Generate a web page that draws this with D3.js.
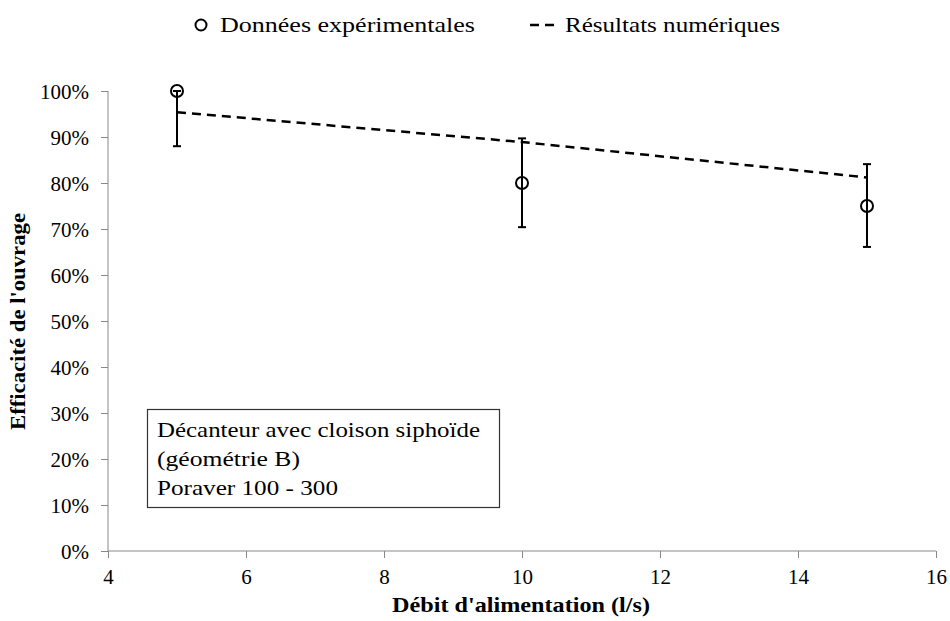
<!DOCTYPE html>
<html><head><meta charset="utf-8">
<script src="https://cdn.jsdelivr.net/npm/d3@7"></script>
<style>body{margin:0;background:#fff;} text{font-family:"Liberation Serif","DejaVu Serif",serif;}</style>
</head><body>
<svg id="c" width="950" height="621"></svg>
<script>
const expX = [5, 10, 15];
const expY = [1.00, 0.80, 0.75];
const errLow = [0.88, 0.704, 0.661];
const errHigh = [1.00, 0.897, 0.841];
const numX = [5, 10, 15];
const numY = [0.954, 0.889, 0.812];
const xTicks = [4, 6, 8, 10, 12, 14, 16];
const yTicks = [0, 0.1, 0.2, 0.3, 0.4, 0.5, 0.6, 0.7, 0.8, 0.9, 1.0];
const noteLines = ["Décanteur avec cloison siphoïde", "(géométrie B)", "Poraver 100 - 300"];

const svg = d3.select("#c");
const x = d3.scaleLinear().domain([4, 16]).range([108, 936]);
const y = d3.scaleLinear().domain([0, 1]).range([551, 91]);

const axisColor = "#898989";
const xa = svg.append("g").attr("transform", "translate(0,551)")
  .call(d3.axisBottom(x).tickValues(xTicks).tickSize(7).tickPadding(8).tickFormat(d3.format("d")));
const ya = svg.append("g").attr("transform", "translate(108,0)")
  .call(d3.axisLeft(y).tickValues(yTicks).tickSize(7).tickPadding(12).tickFormat(d => Math.round(d*100) + "%"));
[xa, ya].forEach(a => {
  a.selectAll("path,line").attr("stroke", axisColor).attr("stroke-width", 1);
  a.selectAll("text").attr("fill", "#000").attr("font-size", 21).attr("font-family", "Liberation Serif");
});
xa.select(".domain").attr("d", "M108,0H936");
ya.select(".domain").attr("d", "M0,91V551");
xa.selectAll("text").attr("dy", "0.85em");
ya.selectAll("text").attr("dy", "0.34em");

// dashed line
svg.append("path")
  .datum(numX.map((d, i) => [d, numY[i]]))
  .attr("fill", "none").attr("stroke", "#000").attr("stroke-width", 2.5)
  .attr("stroke-dasharray", "9,6")
  .attr("d", d3.line().x(d => x(d[0])).y(d => y(d[1])));

// error bars
const eb = svg.append("g").attr("stroke", "#000").attr("stroke-width", 2);
expX.forEach((d, i) => {
  eb.append("line").attr("x1", x(d)).attr("x2", x(d)).attr("y1", y(errLow[i])).attr("y2", y(errHigh[i]));
  eb.append("line").attr("x1", x(d) - 4).attr("x2", x(d) + 4).attr("y1", y(errLow[i])).attr("y2", y(errLow[i]));
  eb.append("line").attr("x1", x(d) - 4).attr("x2", x(d) + 4).attr("y1", y(errHigh[i])).attr("y2", y(errHigh[i]));
});

// points
svg.append("g").selectAll("circle").data(expX).join("circle")
  .attr("cx", d => x(d)).attr("cy", (d, i) => y(expY[i])).attr("r", 6)
  .attr("fill", "none").attr("stroke", "#000").attr("stroke-width", 2);

// axis titles
svg.append("text").attr("x", 392).attr("y", 612)
  .attr("font-size", 21).attr("font-weight", "bold")
  .attr("textLength", 258).attr("lengthAdjust", "spacingAndGlyphs").text("Débit d'alimentation (l/s)");
svg.append("text").attr("transform", "translate(25,430) rotate(-90)")
  .attr("font-size", 20).attr("font-weight", "bold")
  .attr("textLength", 217).attr("lengthAdjust", "spacingAndGlyphs").text("Efficacité de l'ouvrage");

// annotation box
svg.append("rect").attr("x", 147.5).attr("y", 409.5).attr("width", 352).attr("height", 98)
  .attr("fill", "#fff").attr("stroke", "#333").attr("stroke-width", 1.2);
const noteW = [323, 143, 181];
noteLines.forEach((t, i) => {
  svg.append("text").attr("x", 157).attr("y", 437 + i * 29).attr("font-size", 22)
    .attr("textLength", noteW[i]).attr("lengthAdjust", "spacingAndGlyphs").text(t);
});

// legend
svg.append("circle").attr("cx", 201).attr("cy", 25).attr("r", 5.5)
  .attr("fill", "none").attr("stroke", "#000").attr("stroke-width", 2);
svg.append("text").attr("x", 220).attr("y", 32).attr("font-size", 21)
  .attr("textLength", 255).attr("lengthAdjust", "spacingAndGlyphs").text("Données expérimentales");
svg.append("line").attr("x1", 530).attr("x2", 556).attr("y1", 25).attr("y2", 25)
  .attr("stroke", "#000").attr("stroke-width", 2.5).attr("stroke-dasharray", "9,6");
svg.append("text").attr("x", 565).attr("y", 32).attr("font-size", 21)
  .attr("textLength", 215).attr("lengthAdjust", "spacingAndGlyphs").text("Résultats numériques");
</script>
</body></html>
